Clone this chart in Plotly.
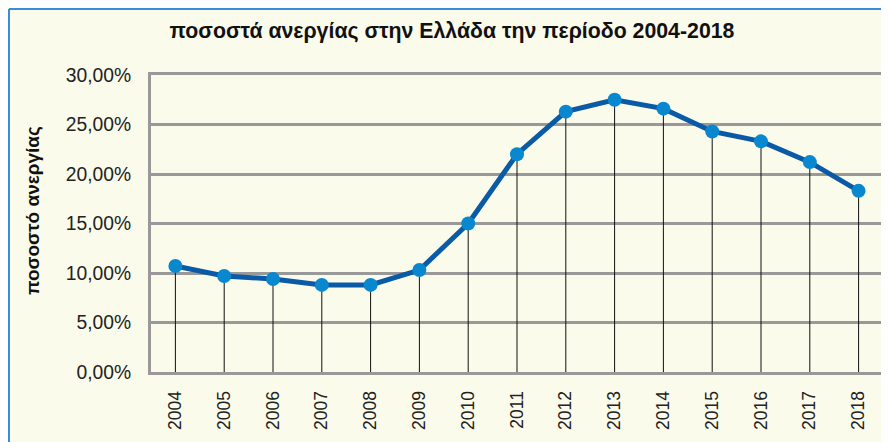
import plotly.graph_objects as go

years = ["2004", "2005", "2006", "2007", "2008", "2009", "2010", "2011",
         "2012", "2013", "2014", "2015", "2016", "2017", "2018"]
rates = [10.7, 9.7, 9.4, 8.8, 8.8, 10.3, 15.0, 22.0, 26.3, 27.5, 26.6, 24.3, 23.3, 21.2, 18.3]
y_ticks = [0, 5, 10, 15, 20, 25, 30]
y_tick_labels = [f"{v:.2f}".replace(".", ",") + "%" for v in y_ticks]

title_text = "ποσοστά ανεργίας στην Ελλάδα την περίοδο 2004-2018"
y_title = "ποσοστό ανεργίας"

drop_x, drop_y = [], []
for yr, v in zip(years, rates):
    drop_x += [yr, yr, None]
    drop_y += [0, v, None]

W, H = 881, 434
L, R, T, B = 143, 6, 67, 70
pw, ph = W - L - R, H - T - B

fig = go.Figure()
fig.add_trace(go.Scatter(x=drop_x, y=drop_y, mode="lines",
                         line=dict(color="#111111", width=1), hoverinfo="skip",
                         showlegend=False))
fig.add_trace(go.Scatter(x=years, y=rates, mode="lines+markers",
                         line=dict(color="#0A5AA6", width=5),
                         marker=dict(color="#0A88CF", size=14),
                         showlegend=False))

fig.update_layout(
    width=W, height=H,
    margin=dict(l=L, r=R, t=T, b=B),
    paper_bgcolor="#FBFBEB",
    plot_bgcolor="#FBFBEB",
    font=dict(family="Liberation Sans, Arial, sans-serif", color="#222222"),
    title=dict(text="<b>" + title_text + "</b>", x=0.504, xanchor="center",
               xref="container", y=0.949, yref="container", yanchor="middle",
               font=dict(size=21.3, color="#111111")),
    xaxis=dict(type="category", range=[-0.5, 14.5], tickangle=-90,
               tickfont=dict(size=17.5, color="#222222"), showgrid=False,
               showline=True, linecolor="#999999", linewidth=3, mirror=True,
               ticks="", ticklen=0, automargin=False, ticklabelstandoff=9),
    yaxis=dict(range=[0, 30], tickvals=y_ticks, ticktext=y_tick_labels,
               tickfont=dict(size=19.3, color="#222222"),
               showgrid=True, gridcolor="#999999", gridwidth=2.5,
               showline=True, linecolor="#999999", linewidth=3, mirror=True,
               zeroline=False, ticks="", ticklen=0, automargin=False,
               ticklabelstandoff=13),
    annotations=[dict(text="<b>" + y_title + "</b>", xref="paper", yref="paper",
                      x=-0.1626, y=0.545, xanchor="center", yanchor="middle",
                      textangle=-90, showarrow=False,
                      font=dict(size=19, color="#111111"))],
    shapes=[
        dict(type="line", xref="paper", yref="paper",
             x0=-(L - 1) / pw, x1=-(L - 1) / pw, y0=-B / ph, y1=1 + (T - 1) / ph,
             line=dict(color="#3B8BDA", width=2)),
        dict(type="line", xref="paper", yref="paper",
             x0=-(L - 1) / pw, x1=1 + R / pw, y0=1 + (T - 1) / ph, y1=1 + (T - 1) / ph,
             line=dict(color="#3B8BDA", width=2)),
    ],
)

fig.write_html("out.html")
